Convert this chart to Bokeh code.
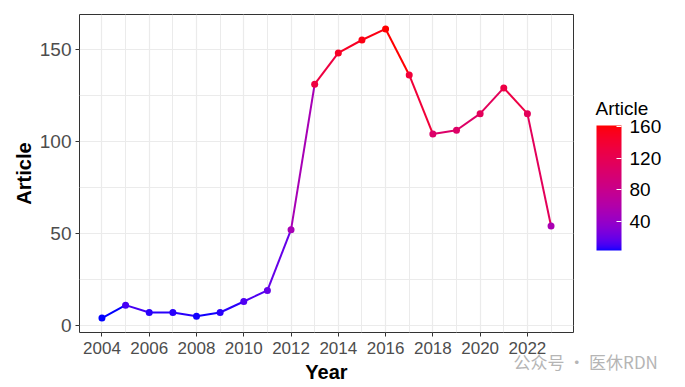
from bokeh.plotting import figure
from bokeh.models import (ColumnDataSource, LinearColorMapper, ColorBar, FixedTicker,
                          Range1d)
from bokeh.embed import file_html
from bokeh.resources import INLINE

# ---- data ----
years = [2004, 2005, 2006, 2007, 2008, 2009, 2010, 2011, 2012, 2013,
         2014, 2015, 2016, 2017, 2018, 2019, 2020, 2021, 2022, 2023]
articles = [4, 11, 7, 7, 5, 7, 13, 19, 52, 131,
            148, 155, 161, 136, 104, 106, 115, 129, 115, 54]
x_ticks = [2004, 2006, 2008, 2010, 2012, 2014, 2016, 2018, 2020, 2022]
x_minor = [2003, 2005, 2007, 2009, 2011, 2013, 2015, 2017, 2019, 2021, 2023]
y_ticks = [0, 50, 100, 150]
y_minor = [25, 75, 125]
legend_ticks = [40, 80, 120, 160]
legend_title = "Article"
watermark = "公众号 · 医休RDN"

# ---- Lab-interpolated blue->red palette (like ggplot's scale_colour_gradient) ----
def _lin(c):
    c = c / 255.0
    return c / 12.92 if c <= 0.04045 else ((c + 0.055) / 1.055) ** 2.4

def _delin(c):
    c = 12.92 * c if c <= 0.0031308 else 1.055 * c ** (1 / 2.4) - 0.055
    return max(0, min(255, round(c * 255)))

WX, WY, WZ = 0.95047, 1.0, 1.08883

def rgb2lab(r, g, b):
    r, g, b = _lin(r), _lin(g), _lin(b)
    X = 0.4124564 * r + 0.3575761 * g + 0.1804375 * b
    Y = 0.2126729 * r + 0.7151522 * g + 0.0721750 * b
    Z = 0.0193339 * r + 0.1191920 * g + 0.9503041 * b
    def f(t):
        return t ** (1 / 3) if t > 216 / 24389 else (24389 / 27 * t + 16) / 116
    fx, fy, fz = f(X / WX), f(Y / WY), f(Z / WZ)
    return 116 * fy - 16, 500 * (fx - fy), 200 * (fy - fz)

def lab2rgb(L, a, b):
    fy = (L + 16) / 116
    fx = fy + a / 500
    fz = fy - b / 200
    def finv(t):
        return t ** 3 if t ** 3 > 216 / 24389 else (116 * t - 16) / (24389 / 27)
    X, Y, Z = WX * finv(fx), WY * finv(fy), WZ * finv(fz)
    r = 3.2404542 * X - 1.5371385 * Y - 0.4985314 * Z
    g = -0.9692660 * X + 1.8760108 * Y + 0.0415560 * Z
    bb = 0.0556434 * X - 0.2040259 * Y + 1.0572252 * Z
    return "#%02x%02x%02x" % (_delin(max(r, 0)), _delin(max(g, 0)), _delin(max(bb, 0)))

lo = rgb2lab(0, 0, 255)
hi = rgb2lab(255, 0, 0)
N = 256
palette = [lab2rgb(*[lo[k] + (hi[k] - lo[k]) * i / (N - 1) for k in range(3)]) for i in range(N)]

mapper = LinearColorMapper(palette=palette, low=min(articles), high=max(articles))

src_pts = ColumnDataSource(dict(x=years, y=articles))
src_seg = ColumnDataSource(dict(x0=years[:-1], y0=articles[:-1],
                                x1=years[1:], y1=articles[1:], v=articles[:-1]))

FONT = "Liberation Sans"

p = figure(frame_width=494, frame_height=318,
           output_backend="svg", toolbar_location=None,
           x_range=Range1d(2003.05, 2023.95), y_range=Range1d(-3.85, 168.85),
           min_border_left=79, min_border_top=14, min_border_bottom=55, min_border_right=112,
           background_fill_color="white", border_fill_color="white")

p.segment(x0="x0", y0="y0", x1="x1", y1="y1", source=src_seg, line_width=2,
          line_color={"field": "v", "transform": mapper})
p.scatter(x="x", y="y", source=src_pts, size=7, line_color=None,
          fill_color={"field": "y", "transform": mapper})

p.outline_line_color = "#333333"
p.outline_line_width = 1

p.xaxis.ticker = FixedTicker(ticks=x_ticks, minor_ticks=x_minor)
p.yaxis.ticker = FixedTicker(ticks=y_ticks, minor_ticks=y_minor)
p.xgrid.ticker = FixedTicker(ticks=x_ticks, minor_ticks=x_minor)
p.ygrid.ticker = FixedTicker(ticks=y_ticks, minor_ticks=y_minor)
for g in (p.xgrid, p.ygrid):
    g.grid_line_color = "#EBEBEB"
    g.grid_line_width = 1.2
    g.minor_grid_line_color = "#EBEBEB"
    g.minor_grid_line_width = 1

for ax in (p.xaxis, p.yaxis):
    ax.axis_line_color = None
    ax.major_tick_line_color = "#333333"
    ax.major_tick_out = 4
    ax.major_tick_in = 0
    ax.minor_tick_line_color = None
    ax.major_label_text_font = FONT
    ax.major_label_text_color = "#4D4D4D"
    ax.axis_label_text_font = FONT
    ax.axis_label_text_font_size = "20px"
    ax.axis_label_text_font_style = "bold"
    ax.axis_label_text_color = "black"

p.xaxis.axis_label = "Year"
p.yaxis.axis_label = "Article"
p.xaxis.major_label_text_font_size = "17px"
p.yaxis.major_label_text_font_size = "19px"
p.xaxis.major_label_standoff = 5
p.yaxis.major_label_standoff = 4
p.xaxis.axis_label_standoff = 4
p.yaxis.axis_label_standoff = 2

# colour bar (its title is drawn separately so it sits horizontally above the bar)
cb = ColorBar(color_mapper=mapper, ticker=FixedTicker(ticks=legend_ticks),
              title=None,
              major_label_text_font=FONT, major_label_text_font_size="19px",
              major_label_text_color="black", label_standoff=8,
              width=25, height=125, major_tick_line_color="white",
              major_tick_in=5, major_tick_out=0, bar_line_color=None,
              border_line_color=None, background_fill_color=None,
              location=(517, 82), padding=0, margin=0)
p.add_layout(cb)

def text_bar(text, loc, font, size, color):
    """An invisible one-tick colour bar used only to place a horizontal text."""
    m = LinearColorMapper(palette=["#ffffff"], low=0, high=2)
    return ColorBar(color_mapper=m, ticker=FixedTicker(ticks=[1]),
                    major_label_overrides={1: text}, title=None,
                    major_label_text_font=font, major_label_text_font_size=size,
                    major_label_text_color=color, label_standoff=0,
                    width=1, height=20, scale_alpha=0, bar_line_color=None,
                    major_tick_line_color=None, minor_tick_line_color=None,
                    border_line_color=None, background_fill_color=None,
                    location=loc, padding=0, margin=0)

p.add_layout(text_bar(legend_title, (515, 214), FONT, "19px", "black"))
p.add_layout(text_bar(watermark, (433, -39), "Noto Sans CJK SC", "17px", "#B5B5B5"))

open("out.html", "w").write(file_html(p, INLINE))
